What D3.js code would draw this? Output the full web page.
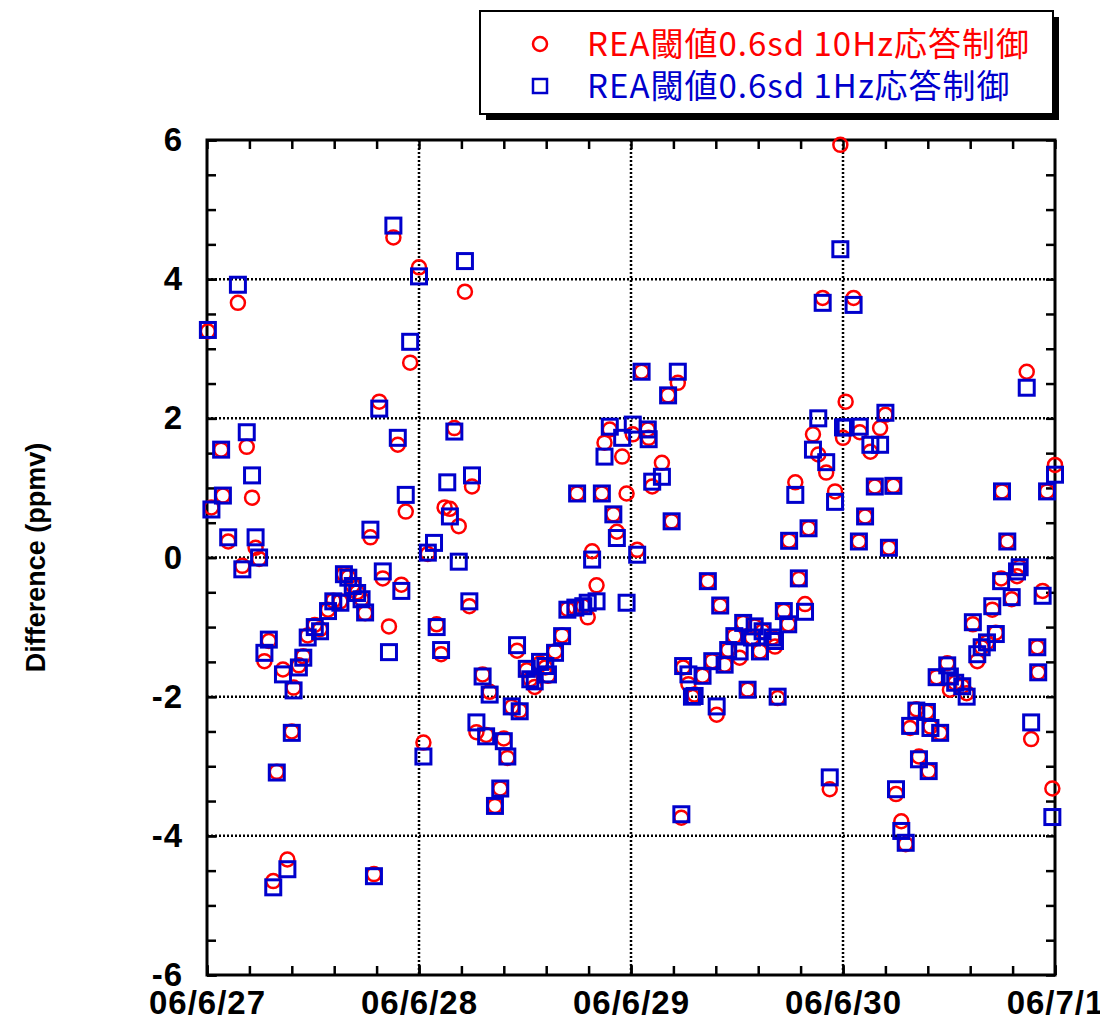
<!DOCTYPE html>
<html lang="ja">
<head>
<meta charset="utf-8">
<title>REA Difference</title>
<script src="https://cdnjs.cloudflare.com/ajax/libs/d3/7.8.5/d3.min.js"></script>
<style>
    body { margin: 0; background: #fff; }
    .axis text { font-family: "Liberation Sans", Arial, sans-serif; font-weight: bold; font-size: 33px; letter-spacing: 1px; fill: #000; }
    .axis line { stroke: #000; stroke-width: 2.5; }
</style>
</head>
<body>
<script>
// hours since 06/6/27 00:00
var hours = [0.1, 0.5, 1.6, 1.8, 2.4, 3.5, 4.0, 4.5, 5.1, 5.5, 5.9, 6.5, 7.0, 7.5, 7.9, 8.6, 9.1, 9.6, 9.8, 10.4,
    10.9, 11.4, 12.2, 12.8, 13.7, 14.3, 15.1, 15.5, 16.0, 16.5, 17.0, 17.5, 17.9, 18.5, 18.9, 19.5, 19.9, 20.6, 21.1, 21.6,
    22.0, 22.5, 23.0, 24.0, 24.5,
    25.0, 25.7, 26.0, 26.5, 26.9, 27.2, 27.5, 28.0, 28.5, 29.2, 29.7, 30.0, 30.5, 31.2, 31.6, 32.0, 32.6, 33.2, 33.6, 34.0,
    34.5, 35.1, 35.4, 36.2, 36.6, 37.1, 37.7, 38.3, 38.6, 39.4, 40.2, 40.8, 41.7, 41.9, 42.6, 43.1, 43.6, 44.1, 44.7, 45.0,
    45.6, 46.0, 46.4, 47.0, 47.5, 48.2, 48.7,
    49.2, 49.9, 50.0, 50.4, 51.5, 52.2, 52.6, 53.3, 53.7, 53.9, 54.5, 54.9, 55.2, 56.1, 56.7, 57.2, 57.7, 58.1, 58.6, 59.0,
    59.7, 60.3, 60.7, 61.2, 61.7, 62.0, 62.6, 62.9, 64.0, 64.3, 64.6, 65.3, 65.8, 65.9, 66.6, 67.0, 67.7, 68.1, 68.6, 69.2,
    69.7, 70.1, 70.5, 71.1, 71.7, 72.0,
    72.3, 73.2, 73.8, 73.9, 74.5, 75.1, 75.6, 76.2, 76.8, 77.2, 77.7, 78.0, 78.6, 79.1, 79.6, 80.3, 80.6, 81.5, 81.7, 81.9,
    82.6, 83.0, 83.8, 84.1, 84.7, 85.5, 86.0, 86.7, 87.2, 87.7, 88.3, 88.9, 89.3, 89.9, 90.0, 90.6, 91.1, 91.7, 92.0, 92.8,
    93.3, 94.0, 94.1, 94.6, 95.1, 95.7, 96.0];

// REA threshold 0.6sd, 10Hz response (red circles)
var rea10Hz = [3.25, 0.72, 1.55, 0.89, 0.23, 3.66, -0.12, 1.59, 0.86, 0.14, -0.02, -1.49, -1.20, -4.65, -3.08, -1.61, -4.34, -2.50, -1.87, -1.55,
    -1.42, -1.12, -0.97, -1.03, -0.75, -0.62, -0.63, -0.24, -0.28, -0.40, -0.50, -0.60, -0.80, 0.29, -4.55, 2.24, -0.30, -0.99, 4.60, 1.62,
    -0.39, 0.66, 2.80, 4.17, -2.66,
    0.05, null, -0.96, -1.39, 0.72, null, 0.70, 1.86, 0.45, 3.82, -0.70, 1.02, -2.51, -1.68, -2.55, -1.93, -3.57, -3.32, -2.60, -2.88,
    -2.15, -1.34, -2.20, -1.62, -1.75, -1.86, -1.52, -1.58, -1.70, -1.35, -1.12, -0.74, -0.72, 0.92, -0.70, -0.86, 0.09, -0.40, 0.92, 1.65,
    1.84, 0.62, 0.37, 1.45, 0.92, 1.77, 0.11,
    2.67, 1.84, 1.72, 1.02, 1.36, 2.33, 0.52, 2.51, -3.74, -1.58, -1.82, -2.00, -1.97, -1.70, -0.34, -1.49, -2.26, -0.69, -1.54, -1.33,
    -1.13, -1.44, -0.94, -1.90, -1.15, -0.99, -1.35, -1.06, -1.15, -1.28, -2.02, -0.77, -0.96, 0.24, 1.08, -0.31, -0.67, 0.42, 1.77, 1.48,
    3.73, 1.22, -3.33, 0.95, 5.93, 1.72,
    2.24, 3.73, 0.23, 1.80, 0.59, 1.52, 1.02, 1.86, 2.05, 0.14, 1.03, -3.40, -3.79, -4.12, -2.45, -2.18, -2.86, -2.22, -3.07, -2.43,
    -1.72, -2.52, -1.52, -1.90, -1.80, -1.85, -1.95, -0.96, -1.49, -1.29, -1.22, -0.75, -1.08, -0.30, 0.95, 0.23, -0.60, -0.27, -0.14, 2.67,
    -2.61, -1.29, -1.65, -0.48, 0.95, -3.32, 1.33];

// REA threshold 0.6sd, 1Hz response (blue squares)
var rea1Hz = [3.27, 0.69, 1.55, 0.89, 0.29, 3.92, -0.17, 1.80, 1.18, 0.29, 0.00, -1.37, -1.18, -4.74, -3.09, -1.68, -4.48, -2.52, -1.91, -1.58,
    -1.44, -1.15, -1.00, -1.06, -0.77, -0.63, -0.65, -0.24, -0.29, -0.41, -0.51, -0.60, -0.79, 0.40, -4.58, 2.14, -0.20, -1.36, 4.77, 1.72,
    -0.48, 0.90, 3.10, 4.04, -2.86,
    0.07, 0.21, -1.00, -1.33, null, 1.08, 0.59, 1.81, -0.06, 4.26, -0.63, 1.18, -2.37, -1.71, -2.57, -1.97, -3.57, -3.32, -2.64, -2.86,
    -2.14, -1.26, -2.21, -1.60, -1.75, -1.78, -1.50, -1.56, -1.68, -1.37, -1.13, -0.75, -0.72, 0.92, -0.70, -0.65, -0.03, -0.63, 0.92, 1.45,
    1.88, 0.62, 0.28, 1.72, -0.65, 1.91, 0.04,
    2.67, 1.84, 1.70, 1.09, 1.16, 2.33, 0.52, 2.67, -3.69, -1.56, -1.68, -2.00, -1.99, -1.70, -0.34, -1.49, -2.14, -0.69, -1.54, -1.33,
    -1.13, -1.35, -0.94, -1.90, -1.15, -0.99, -1.35, -1.06, -1.15, -1.20, -2.00, -0.77, -0.96, 0.24, 0.90, -0.30, -0.78, 0.42, 1.55, 2.00,
    3.66, 1.37, -3.16, 0.80, 4.43, 1.87,
    1.87, 3.63, 0.23, 1.88, 0.59, 1.62, 1.02, 1.62, 2.08, 0.14, 1.03, -3.33, -3.93, -4.10, -2.42, -2.20, -2.90, -2.22, -3.07, -2.45,
    -1.72, -2.52, -1.55, -1.71, -1.80, -1.85, -2.00, -0.93, -1.39, -1.29, -1.22, -0.70, -1.10, -0.34, 0.95, 0.23, -0.57, -0.20, -0.14, 2.44,
    -2.37, -1.29, -1.65, -0.55, 0.95, -3.73, 1.19];

var dayLabels = ["06/6/27", "06/6/28", "06/6/29", "06/6/30", "06/7/1"];
var yTickValues = [-6, -4, -2, 0, 2, 4, 6];
var seriesNames = ["REA閾値0.6sd 10Hz応答制御", "REA閾値0.6sd 1Hz応答制御"];

var w = 1100, h = 1020;
var plotLeft = 207, plotRight = 1055, plotTop = 140, plotBottom = 975;

var start = new Date(2006, 5, 27);
var end = new Date(2006, 6, 1);
var dayDates = d3.timeDay.range(start, d3.timeDay.offset(end, 1));
var minorDates = d3.range(0, 96.01, 4.8).map(function(hh){ return new Date(+start + hh * 3600e3); });
var minorY = d3.range(-6, 6.01, 0.5);

var x = d3.scaleTime().domain([start, end]).range([plotLeft, plotRight]);
var y = d3.scaleLinear().domain([-6, 6]).range([plotBottom, plotTop]);

var svg = d3.select("body").append("svg")
    .attr("width", w)
    .attr("height", h);

// grid
svg.append("g").selectAll("line")
    .data(dayDates.slice(1, -1))
    .enter().append("line")
    .attr("x1", function(d){ return x(d); })
    .attr("x2", function(d){ return x(d); })
    .attr("y1", plotTop).attr("y2", plotBottom)
    .attr("stroke", "#000").attr("stroke-width", 2.5).attr("stroke-dasharray", "2,2");

svg.append("g").selectAll("line")
    .data(yTickValues.slice(1, -1))
    .enter().append("line")
    .attr("y1", function(d){ return y(d); })
    .attr("y2", function(d){ return y(d); })
    .attr("x1", plotLeft).attr("x2", plotRight)
    .attr("stroke", "#000").attr("stroke-width", 2.5).attr("stroke-dasharray", "2,2");

// axes, ticks inward
var fmt = function(d, i){ return dayLabels[i]; };

svg.append("g").attr("class", "axis")
    .attr("transform", "translate(0," + plotBottom + ")")
    .call(d3.axisBottom(x).tickValues(dayDates).tickFormat(fmt).tickSize(-10).tickPadding(16));
svg.append("g").attr("class", "axis")
    .attr("transform", "translate(0," + plotBottom + ")")
    .call(d3.axisBottom(x).tickValues(minorDates).tickFormat("").tickSize(-9));
svg.append("g").attr("class", "axis")
    .attr("transform", "translate(0," + plotTop + ")")
    .call(d3.axisTop(x).tickValues(minorDates).tickFormat("").tickSize(-9));

svg.append("g").attr("class", "axis")
    .attr("transform", "translate(" + plotLeft + ",0)")
    .call(d3.axisLeft(y).tickValues(yTickValues)
        .tickFormat(function(d){ return String(d); })
        .tickSize(-10).tickPadding(24));
svg.append("g").attr("class", "axis")
    .attr("transform", "translate(" + plotLeft + ",0)")
    .call(d3.axisLeft(y).tickValues(minorY).tickFormat("").tickSize(-9));
svg.append("g").attr("class", "axis")
    .attr("transform", "translate(" + plotRight + ",0)")
    .call(d3.axisRight(y).tickValues(minorY).tickFormat("").tickSize(-9));

svg.selectAll(".axis .domain").remove();

svg.append("rect")
    .attr("x", plotLeft).attr("y", plotTop)
    .attr("width", plotRight - plotLeft).attr("height", plotBottom - plotTop)
    .attr("fill", "none").attr("stroke", "#000").attr("stroke-width", 3);

svg.append("text")
    .attr("transform", "translate(45," + ((plotTop + plotBottom) / 2) + ") rotate(-90)")
    .attr("text-anchor", "middle")
    .style("font-family", "'Liberation Sans', Arial, sans-serif")
    .style("font-weight", "bold")
    .style("font-size", "27px")
    .text("Difference (ppmv)");

// points
var pts = hours.map(function(hh, i){
    return {t: new Date(+start + hh * 3600e3), c: rea10Hz[i], s: rea1Hz[i]};
});

svg.append("g").selectAll("circle")
    .data(pts.filter(function(d){ return d.c != null; }))
    .enter().append("circle")
    .attr("cx", function(d){ return x(d.t); })
    .attr("cy", function(d){ return y(d.c); })
    .attr("r", 7)
    .attr("fill", "none")
    .attr("stroke", "#ff0000")
    .attr("stroke-width", 2.5);

svg.append("g").selectAll("rect")
    .data(pts.filter(function(d){ return d.s != null; }))
    .enter().append("rect")
    .attr("x", function(d){ return x(d.t) - 7.5; })
    .attr("y", function(d){ return y(d.s) - 7.5; })
    .attr("width", 15)
    .attr("height", 15)
    .attr("fill", "none")
    .attr("stroke", "#0000cc")
    .attr("stroke-width", 3);

// legend
var legend = svg.append("g");
legend.append("rect")
    .attr("x", 486).attr("y", 17).attr("width", 573).attr("height", 103)
    .attr("fill", "#000");
legend.append("rect")
    .attr("x", 480).attr("y", 11).attr("width", 573).attr("height", 103)
    .attr("fill", "#fff").attr("stroke", "#000").attr("stroke-width", 2);
legend.append("circle")
    .attr("cx", 540).attr("cy", 44).attr("r", 7)
    .attr("fill", "none").attr("stroke", "#ff0000").attr("stroke-width", 2.5);
legend.append("rect")
    .attr("x", 533).attr("y", 79).attr("width", 14).attr("height", 14)
    .attr("fill", "none").attr("stroke", "#0000cc").attr("stroke-width", 2.5);
legend.selectAll("text")
    .data(seriesNames)
    .enter().append("text")
    .attr("x", 587)
    .attr("y", function(d, i){ return 56 + i * 42; })
    .attr("fill", function(d, i){ return i == 0 ? "#ff0000" : "#0000cc"; })
    .style("font-family", "'Noto Sans CJK JP', 'Noto Sans', sans-serif")
    .style("font-size", "33px")
    .style("letter-spacing", "1px")
    .text(function(d){ return d; });
</script>
</body>
</html>
